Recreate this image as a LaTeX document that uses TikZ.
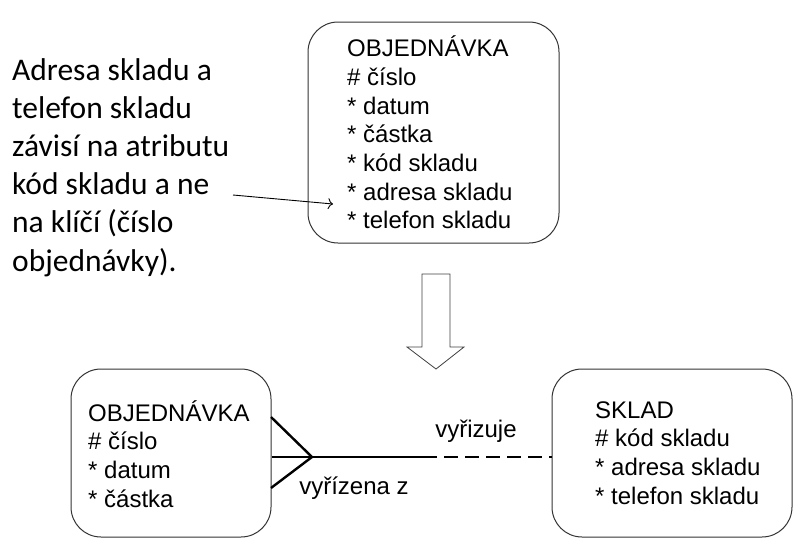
\documentclass[tikz,border=0pt]{standalone}
\usepackage{fontspec}
\setmainfont{Liberation Sans}
\newfontfamily\calib{Carlito}
\usetikzlibrary{arrows.meta,calc}
\begin{document}
\begin{tikzpicture}[x=1pt,y=-1pt,
  entity/.style={draw=black!80, line width=1pt, rounded corners=30pt, inner sep=0pt},
  attrs/.style={font=\fontsize{24}{28.7}\selectfont, align=left, inner sep=0pt, anchor=west},
  lbl/.style={font=\fontsize{24}{28.7}\selectfont, inner sep=0pt},
  rel/.style={line width=2.4pt},
  note/.style={font=\calib\fontsize{31.5}{38.2}\selectfont, align=left, inner sep=0pt, anchor=north west}]
\useasboundingbox (0,0) rectangle (805,552);
% top entity
\node[entity, minimum width=251pt, minimum height=221pt] (top) at (433.5,132.5) {};
\node[attrs] (toptxt) at (347,132.5) {OBJEDNÁVKA\\\# číslo\\* datum\\* částka\\* kód skladu\\* adresa skladu\\* telefon skladu};
% note
\node[note] (note) at (12,58) {Adresa skladu a\\telefon skladu\\závisí na atributu\\kód skladu a ne\\na klíčí (číslo\\objednávky).};
\coordinate (ns) at (233,195);
\coordinate (ne) at (333,204);
\draw[line width=0.9pt, -{To[length=5pt,width=11pt]}] (ns) -- (ne);
% hollow arrow
\draw[line width=0.8pt, draw=black!75, fill=white] (422,274) -- (450,274) -- (450,347) -- (464,347) -- (436,369) -- (407,347) -- (422,347) -- cycle;
% bottom left entity
\node[entity, minimum width=200pt, minimum height=168pt] (ord) at (171,453) {};
\node[attrs] (ordtxt) at (88,454) {OBJEDNÁVKA\\\# číslo\\* datum\\* částka};
% bottom right entity
\node[entity, minimum width=240pt, minimum height=168pt] (sk) at (672,453) {};
\node[attrs] (sktxt) at (595,453) {SKLAD\\\# kód skladu\\* adresa skladu\\* telefon skladu};
% relationship
\coordinate (fork) at (312,457);
\coordinate (mid) at (423,457);
\coordinate (p1) at (271,417);
\coordinate (p2) at (271,488);
\draw[rel] (ord.east |- fork) -- (fork) -- (mid);
\draw[rel] (p1) -- (fork) -- (p2);
\draw[rel, dash pattern=on 14pt off 7pt] (mid) -- (sk.west |- mid);
\node[lbl] (l1) at (476,431) {vyřizuje};
\node[lbl] (l2) at (354,488) {vyřízena z};
\end{tikzpicture}
\end{document}
